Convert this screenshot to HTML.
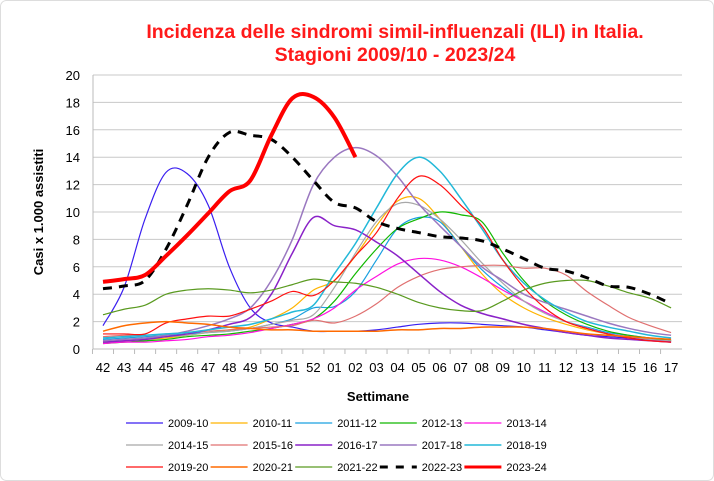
<!DOCTYPE html>
<html><head><meta charset="utf-8"><style>
body{margin:0;background:#fff;}
svg{display:block;font-family:"Liberation Sans",Arial,sans-serif;}
</style></head><body>
<svg id="s" width="714" height="481" viewBox="0 0 714 481">
<rect x="0.5" y="0.5" width="713" height="480" rx="6" fill="#fff" stroke="#ddd"/>
<text x="395" y="38" text-anchor="middle" fill="#ff1a1a" font-size="19.5" font-weight="bold">Incidenza delle sindromi simil-influenzali (ILI) in  Italia.</text>
<text x="395" y="61" text-anchor="middle" fill="#ff1a1a" font-size="19.5" font-weight="bold">Stagioni 2009/10 - 2023/24</text>
<g id="grid"></g>
<text transform="translate(43,212) rotate(-90)" text-anchor="middle" font-size="13" font-weight="bold">Casi x 1.000 assistiti</text>
<text x="378" y="401" text-anchor="middle" font-size="13" font-weight="bold">Settimane</text>
<g id="series"></g>
<g id="legend" font-size="11"></g>
</svg>
<script>
var ns="http://www.w3.org/2000/svg";
function el(p,t,a,txt){var e=document.createElementNS(ns,t);for(var k in a)e.setAttribute(k,a[k]);if(txt!=null)e.textContent=txt;p.appendChild(e);return e;}
var X0=103,DX=21.04,Y0=349,DY=13.7;
function X(i){return X0+DX*i;} function Y(v){return Y0-DY*v;}
var g=document.getElementById('grid');
for(var v=0;v<=20;v+=2){
 if(v>0) el(g,'line',{x1:93,x2:682,y1:Y(v),y2:Y(v),stroke:'#c8c8c8','stroke-width':1});
 el(g,'text',{x:80,y:Y(v)+5,'text-anchor':'end','font-size':13},String(v));
}
el(g,'line',{x1:93,x2:93,y1:Y(20),y2:Y(0),stroke:'#bbb'});
el(g,'line',{x1:93,x2:682,y1:Y(0),y2:Y(0),stroke:'#bbb'});
var wk=[];for(var w=42;w<=52;w++)wk.push(String(w));for(var w=1;w<=17;w++)wk.push((w<10?'0':'')+w);
for(var i=0;i<wk.length;i++){
 el(g,'line',{x1:X(i)-DX/2,x2:X(i)-DX/2,y1:Y(0),y2:Y(0)+5,stroke:'#bbb'});
 el(g,'text',{x:X(i),y:372,'text-anchor':'middle','font-size':13},wk[i]);
}
var S=[
["2009-10","#3a1ff0",1.2,null,[1.7,4.5,9.5,12.9,12.8,10.5,6,3,1.9,1.6,1.3,1.3,1.3,1.4,1.6,1.8,1.9,1.9,1.8,1.7,1.6,1.4,1.2,1,0.9,0.8,0.7,0.6]],
["2010-11","#ffb400",1.2,null,[0.5,0.6,0.7,0.8,1,1.2,1.4,1.6,2.2,3,4.3,5,6.8,9,10.8,11,9.5,7.5,5.5,4,3,2.3,1.8,1.4,1.1,0.9,0.8,0.6]],
["2011-12","#1aa0e0",1.2,null,[0.7,0.8,0.9,1,1.1,1.2,1.3,1.5,1.8,2.2,3,3.1,4.2,6.5,8.8,9.6,9.3,7.5,5.8,4.5,3.5,2.7,2,1.6,1.2,1,0.8,0.7]],
["2012-13","#11b800",1.2,null,[0.4,0.5,0.6,0.7,0.9,1,1.1,1.3,1.5,1.8,2.2,3.5,5.5,7.3,8.8,9.5,10,9.8,9.3,7,5,3.5,2.5,1.8,1.3,1,0.8,0.6]],
["2013-14","#ff10e0",1.2,null,[0.4,0.5,0.5,0.6,0.7,0.9,1,1.2,1.5,1.8,2.2,3,4.3,5.3,6.2,6.6,6.5,6,5.2,4.3,3.5,2.7,2,1.5,1.1,0.9,0.7,0.5]],
["2014-15","#a8a8a8",1.2,null,[0.6,0.7,0.8,0.9,1,1.2,1.3,1.5,1.8,2.1,2.5,4.5,7,9.3,10.6,10.5,9.5,8,6.3,4.8,3.5,2.6,2,1.5,1.1,0.9,0.7,0.6]],
["2015-16","#e07070",1.2,null,[0.9,1,1,1.1,1.2,1.3,1.4,1.5,1.6,1.7,2.1,1.9,2.4,3.3,4.5,5.3,5.8,6,6.1,6.1,5.9,5.9,5.4,4.2,3.2,2.3,1.7,1.2]],
["2016-17","#8a22c8",1.5,null,[0.5,0.6,0.7,0.9,1.1,1.4,1.8,2.3,4,7,9.6,9,8.7,7.8,6.8,5.5,4.2,3.2,2.6,2.2,1.8,1.5,1.2,1,0.8,0.7,0.6,0.5]],
["2017-18","#9a78c0",1.5,null,[0.6,0.7,0.8,1,1.3,1.7,2.2,3,5,8,12,14,14.7,14.1,12.6,10.6,9,7.5,6,5,4,3.4,2.9,2.4,1.9,1.5,1.2,1]],
["2018-19","#22b8d8",1.5,null,[0.8,0.9,1,1.1,1.2,1.4,1.6,1.8,2.2,2.7,3.2,5.5,7.7,10.3,12.8,14,13,11,8.8,6.5,4.8,3.6,2.7,2,1.6,1.3,1,0.8]],
["2019-20","#ff1010",1.2,null,[1.1,1.1,1.1,1.9,2.2,2.4,2.4,2.9,3.5,4.2,3.9,5,6.8,8.5,11,12.6,12,10.5,9,6.5,4.5,3,2,1.5,1.1,0.8,0.6,0.5]],
["2020-21","#ff6a00",1.5,null,[1.3,1.7,1.9,2,1.9,1.8,1.6,1.5,1.4,1.4,1.3,1.3,1.3,1.3,1.4,1.4,1.5,1.5,1.6,1.6,1.6,1.5,1.3,1.1,1,0.9,0.8,0.7]],
["2021-22","#5a9a20",1.2,null,[2.5,2.9,3.2,4,4.3,4.4,4.3,4.1,4.3,4.7,5.1,4.9,4.8,4.5,4,3.4,3,2.8,2.8,3.5,4.3,4.8,5,5,4.6,4.1,3.7,3]],
["2022-23","#000",3,"9,7",[4.4,4.6,5.0,7.3,10.5,14,15.8,15.6,15.3,14,12.3,10.7,10.3,9.3,8.8,8.5,8.2,8.1,7.9,7.3,6.6,5.9,5.7,5.2,4.6,4.5,4.0,3.3]],
["2023-24","#ff0000",4,null,[4.9,5.1,5.4,6.8,8.3,9.9,11.5,12.3,15.6,18.3,18.4,16.9,14.0]]
];
function path(d){
 var p=[];for(var i=0;i<d.length;i++)p.push([X(i),Y(d[i])]);
 var s="M"+p[0][0]+","+p[0][1];
 for(var i=0;i<p.length-1;i++){
  var a=p[Math.max(0,i-1)],b=p[i],c=p[i+1],e=p[Math.min(p.length-1,i+2)];
  var t=6;
  s+=" C"+(b[0]+(c[0]-a[0])/t)+","+(b[1]+(c[1]-a[1])/t)+" "+(c[0]-(e[0]-b[0])/t)+","+(c[1]-(e[1]-b[1])/t)+" "+c[0]+","+c[1];
 }
 return s;
}
var sg=document.getElementById('series'),lg=document.getElementById('legend');
S.forEach(function(s,k){
 var a={d:path(s[4]),fill:'none',stroke:s[1],'stroke-width':s[2],'stroke-linejoin':'round'};
 if(s[3])a['stroke-dasharray']=s[3];
 el(sg,'path',a);
 var col=k%5,row=Math.floor(k/5);
 var lx=126+col*84.6,ly=423+row*22;
 var la={x1:lx,x2:lx+37,y1:ly,y2:ly,stroke:s[1],'stroke-width':s[2]>2?(k==13?3:3):s[2]};
 if(s[3])la['stroke-dasharray']='8,8';
 el(lg,'line',la);
 el(lg,'text',{x:lx+42,y:ly+4},s[0]);
});
</script>
</body></html>
